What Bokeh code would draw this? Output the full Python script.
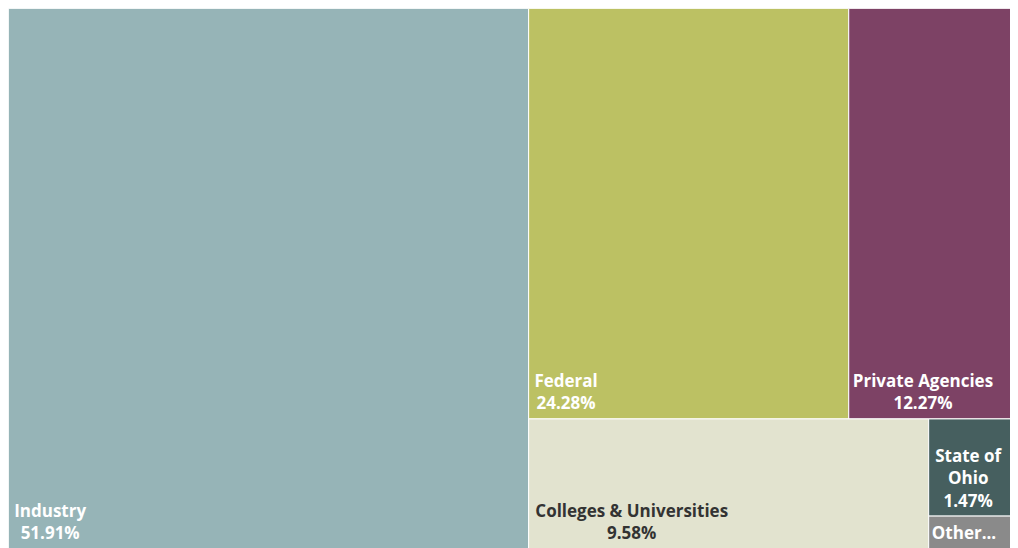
from bokeh.plotting import figure
from bokeh.models import Range1d, ColumnDataSource
from bokeh.core.properties import value
from bokeh.embed import file_html
from bokeh.resources import INLINE

# ---- data ----
categories = ["Industry", "Federal", "Private Agencies", "Colleges & Universities", "State of Ohio", "Other"]
shares = [51.91, 24.28, 12.27, 9.58, 1.47, 0.49]
fill_colors = ["#96b4b7", "#bcc163", "#7d4265", "#e2e3cf", "#465f5f", "#8a8a8a"]
label_colors = ["#ffffff", "#ffffff", "#ffffff", "#333333", "#ffffff", "#ffffff"]

W, H = 1002, 540


def squarify(vals, x0, y0, w, h):
    total = sum(vals)
    areas = [v / total * w * h for v in vals]
    rects = [None] * len(vals)
    st = {"x": x0, "y": y0, "w": w, "h": h, "d": 0}

    def thick(g):
        t = sum(areas[i] for i in g)
        return t / st["h"] if st["d"] == 0 else t / st["w"]

    def ratio_of(g, idx):
        t = thick(g)
        s = areas[idx] / t
        return max(t / s, s / t)

    def commit(g):
        t = thick(g)
        pos = st["y"] if st["d"] == 0 else st["x"]
        for i in g:
            s = areas[i] / t
            if st["d"] == 0:
                rects[i] = (st["x"], pos, t, s)
            else:
                rects[i] = (pos, st["y"], s, t)
            pos += s
        if st["d"] == 0:
            st["x"] += t
            st["w"] -= t
        else:
            st["y"] += t
            st["h"] -= t
        st["d"] = 1 - st["d"]

    group = []
    for i in range(len(vals)):
        if group:
            old = ratio_of(group, group[-1])
            new = ratio_of(group + [i], group[-1])
            if new > old:
                commit(group)
                group = []
        group.append(i)
    commit(group)
    return rects


rects = squarify(shares, 0, 0, W, H)

src = ColumnDataSource(dict(
    left=[r[0] for r in rects],
    right=[r[0] + r[2] for r in rects],
    top=[r[1] for r in rects],
    bottom=[r[1] + r[3] for r in rects],
    color=fill_colors,
))

p = figure(width=W, height=H, output_backend="svg", toolbar_location=None,
           x_range=Range1d(0, W), y_range=Range1d(H, 0), min_border=0,
           tools="")
p.margin = (8, 0, 0, 8)
p.axis.visible = False
p.grid.visible = False
p.outline_line_color = None
p.background_fill_color = "white"

p.quad(left="left", right="right", top="top", bottom="bottom", source=src,
       fill_color="color", line_color="white", line_width=1)

FS = 17
PAD = 7
LINE_H = 22.5
BOTTOM_GAP = 16
WIDTH_SCALE = 1.05


def char_w(c):
    if c.isdigit():
        w = 9.6
    elif c == "%":
        w = 12.5
    elif c in ". ":
        w = 4.0
    elif c == "&":
        w = 11.0
    elif c.isupper():
        w = 10.0
    else:
        w = 8.0
    return w * WIDTH_SCALE


def text_w(s):
    return sum(char_w(c) for c in s)


def wrap(text, maxw):
    words = text.split(" ")
    lines, cur = [], ""
    for wd in words:
        cand = wd if not cur else cur + " " + wd
        if text_w(cand) <= maxw or not cur:
            cur = cand
        else:
            lines.append(cur)
            cur = wd
    if cur:
        lines.append(cur)
    return lines


lx, ly, lt, lc = [], [], [], []
for (x, y, w, h), name, sh, col in zip(rects, categories, shares, label_colors):
    lines = wrap(name, w - 2 * PAD) + [f"{sh:.2f}%"]
    max_lines = int((h - 8) // LINE_H)
    if max_lines <= 0:
        continue
    if len(lines) > max_lines:
        lines = lines[:max_lines]
        lines[-1] = lines[-1] + "..."
    bw = max(text_w(s) for s in lines)
    cx = min(x + PAD + bw / 2, x + w / 2 + (w - bw) / 2 - 2)
    base = y + h - BOTTOM_GAP
    n = len(lines)
    for k, s in enumerate(lines):
        lx.append(cx)
        ly.append(base - (n - 1 - k) * LINE_H)
        lt.append(s)
        lc.append(col)

p.text(x=lx, y=ly, text=lt, text_color=lc, text_align="center",
       text_baseline="alphabetic", text_font=value("Open Sans"),
       text_font_style="bold", text_font_size=f"{FS}px")

open("out.html", "w").write(file_html(p, INLINE))
